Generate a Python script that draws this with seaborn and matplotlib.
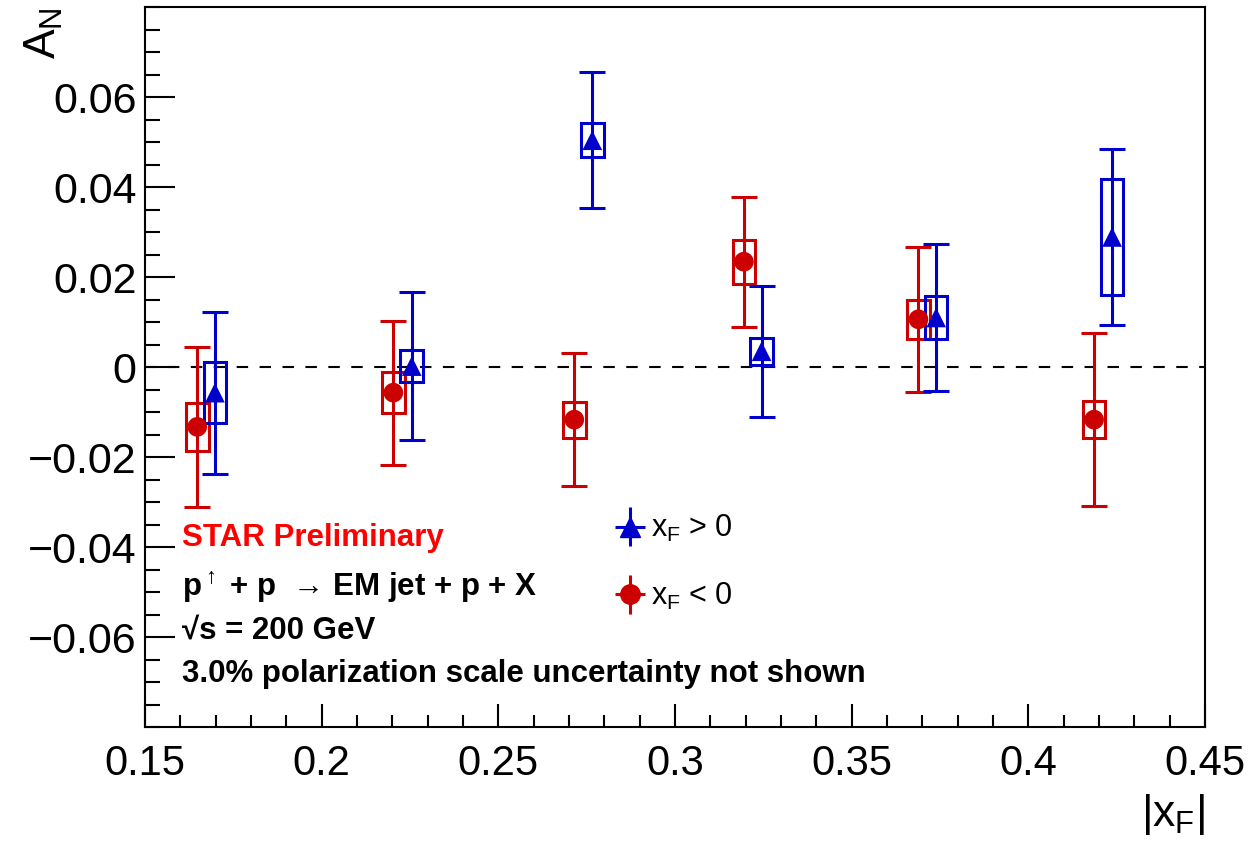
import numpy as np
import pandas as pd
import matplotlib
matplotlib.use("Agg")
import matplotlib.pyplot as plt
import seaborn as sns
from matplotlib.patches import Rectangle
from matplotlib.ticker import MultipleLocator, FuncFormatter
from matplotlib.legend_handler import HandlerErrorbar

# --- data ---
xf_pos = [0.1698, 0.2255, 0.2766, 0.3245, 0.3739, 0.4237]
an_pos = [-0.0057, 0.0002, 0.0504, 0.0035, 0.0110, 0.0289]
stat_pos = [0.0180, 0.0165, 0.0151, 0.0146, 0.0164, 0.0195]
sys_pos = [0.0068, 0.0036, 0.0038, 0.0030, 0.0048, 0.0128]

xf_neg = [0.1648, 0.2203, 0.2715, 0.3195, 0.3689, 0.4186]
an_neg = [-0.0133, -0.0057, -0.0117, 0.0234, 0.0106, -0.0117]
stat_neg = [0.0178, 0.0160, 0.0148, 0.0144, 0.0161, 0.0192]
sys_neg = [0.0054, 0.0046, 0.0040, 0.0049, 0.0044, 0.0041]

BLUE = "#0000cc"
RED = "#cc0000"
BOX_HALF_W = 0.0032  # half width of systematic boxes in |x_F|

df = pd.DataFrame({
    "xf": xf_pos + xf_neg,
    "an": an_pos + an_neg,
    "sign": ["pos"] * len(xf_pos) + ["neg"] * len(xf_neg),
})

sns.set_style("ticks", {"axes.edgecolor": "black", "text.color": "black",
                        "axes.labelcolor": "black", "xtick.color": "black",
                        "ytick.color": "black"})
plt.rcParams["font.family"] = ["Liberation Sans", "DejaVu Sans"]
plt.rcParams["mathtext.fontset"] = "custom"
plt.rcParams["mathtext.rm"] = "Liberation Sans"
plt.rcParams["mathtext.it"] = "Liberation Sans"
plt.rcParams["mathtext.bf"] = "Liberation Sans:bold"

fig, ax = plt.subplots(figsize=(12.55, 8.55), dpi=100)
fig.subplots_adjust(left=0.1155, right=0.9602, bottom=0.1497, top=0.9918)

ax.axhline(0, color="black", lw=1.5, ls=(0, (5.5, 5.5)), zorder=1)

# systematic boxes
for xs, ys, ss, c in [(xf_neg, an_neg, sys_neg, RED), (xf_pos, an_pos, sys_pos, BLUE)]:
    for x, y, s in zip(xs, ys, ss):
        ax.add_patch(Rectangle((x - BOX_HALF_W, y - s), 2 * BOX_HALF_W, 2 * s,
                               fill=False, edgecolor=c, lw=2.2, zorder=2))

# statistical error bars
ax.errorbar(xf_neg, an_neg, yerr=stat_neg, fmt="none", ecolor=RED,
            elinewidth=2.2, capsize=9.5, capthick=2.2, zorder=3)
ax.errorbar(xf_pos, an_pos, yerr=stat_pos, fmt="none", ecolor=BLUE,
            elinewidth=2.2, capsize=9.5, capthick=2.2, zorder=3)

sns.scatterplot(data=df, x="xf", y="an", hue="sign", style="sign",
                palette={"pos": BLUE, "neg": RED},
                markers={"pos": "^", "neg": "o"},
                s=200, linewidth=0, legend=False, ax=ax, zorder=4)

ax.set_xlim(0.15, 0.45)
ax.set_ylim(-0.08, 0.08)
ax.xaxis.set_major_locator(MultipleLocator(0.05))
ax.xaxis.set_minor_locator(MultipleLocator(0.01))
ax.set_yticks(np.arange(-0.06, 0.0601, 0.02))
ax.yaxis.set_minor_locator(MultipleLocator(0.005))

fmt = FuncFormatter(lambda v, p: ("%g" % round(v, 4)).replace("-", "\u2212"))
ax.xaxis.set_major_formatter(fmt)
ax.yaxis.set_major_formatter(fmt)

ax.tick_params(axis="both", which="both", direction="in", top=False, right=False,
               width=1.5)
ax.tick_params(axis="x", which="major", length=16.5, pad=12, labelsize=30)
ax.tick_params(axis="x", which="minor", length=8.5)
ax.tick_params(axis="y", which="major", length=21.5, pad=6, labelsize=31)
ax.tick_params(axis="y", which="minor", length=11)
for sp in ax.spines.values():
    sp.set_linewidth(1.5)
    sp.set_visible(True)

ax.set_ylabel("$A_N$", fontsize=32, loc="top")
ax.yaxis.set_label_coords(-0.075, 1.0)
ax.set_xlabel("$|x_F|$", fontsize=32, loc="right")
ax.xaxis.set_label_coords(1.0, -0.09)

# annotations
txt = dict(transform=ax.transAxes, fontsize=22.5, fontweight="bold", va="center")
ax.text(0.035, 0.262, "STAR Preliminary", color="#ff0000", **txt)
ax.text(0.035, 0.194, "$\\mathbf{p}^{\\uparrow}$ + p  \u2192 EM jet + p + X", **txt)
ax.text(0.035, 0.134, "\u221As = 200 GeV", **txt)
ax.text(0.035, 0.074, "3.0% polarization scale uncertainty not shown", **txt)

# legend proxies
h_pos = ax.errorbar([np.nan], [np.nan], xerr=[1], yerr=[1], fmt="^", color=BLUE,
                    ms=14, elinewidth=2.2, capsize=0)
h_neg = ax.errorbar([np.nan], [np.nan], xerr=[1], yerr=[1], fmt="o", color=RED,
                    ms=14, elinewidth=2.2, capsize=0)
ax.legend([h_pos, h_neg], ["$x_F$ > 0", "$x_F$ < 0"], loc="upper left",
          bbox_to_anchor=(0.417, 0.335), frameon=False, fontsize=22,
          handlelength=1.0, handletextpad=0.2, labelspacing=1.2,
          handler_map={type(h_pos): HandlerErrorbar(xerr_size=0.5, yerr_size=0.65)})

fig.savefig("out.png", dpi=100)
